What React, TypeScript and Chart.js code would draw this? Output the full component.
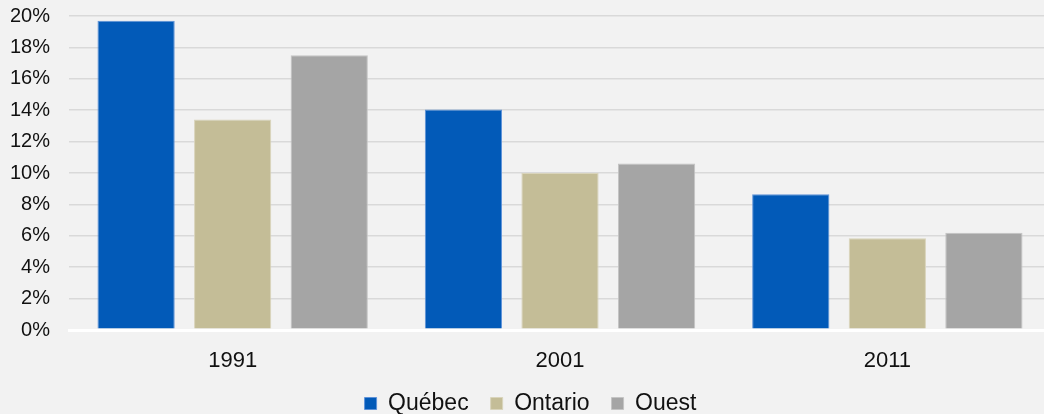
import React, { useEffect, useRef } from "react";
import { Chart, registerables } from "chart.js";

Chart.register(...registerables);

const categories = ["1991", "2001", "2011"];
const seriesNames = ["Québec", "Ontario", "Ouest"];
const quebec = [19.7, 14.05, 8.65];
const ontario = [13.4, 10.0, 5.85];
const ouest = [17.5, 10.6, 6.2];
const yTicks = [0, 2, 4, 6, 8, 10, 12, 14, 16, 18, 20];

const FONT = "'Liberation Sans', Arial, sans-serif";

export default function App() {
  const ref = useRef<HTMLCanvasElement | null>(null);

  useEffect(() => {
    document.body.style.margin = "0";
    document.body.style.background = "#f2f2f2";
    const canvas = ref.current;
    if (!canvas) return;
    const chart = new Chart(canvas, {
      type: "bar",
      data: {
        labels: categories,
        datasets: [
          { label: seriesNames[0], data: quebec, backgroundColor: "#025ab8", borderColor: "#5e92d8", borderWidth: 1 },
          { label: seriesNames[1], data: ontario, backgroundColor: "#c4bd97", borderColor: "#d9d4bb", borderWidth: 1 },
          { label: seriesNames[2], data: ouest, backgroundColor: "#a5a5a5", borderColor: "#c4c4c4", borderWidth: 1 },
        ],
      },
      options: {
        responsive: false,
        animation: false,
        devicePixelRatio: 1,
        layout: { padding: { top: 16, left: 10, right: 0, bottom: 0 } },
        datasets: { bar: { categoryPercentage: 0.885, barPercentage: 0.8 } },
        scales: {
          x: {
            grid: { display: false, drawTicks: false },
            border: { display: true, color: "#ffffff", width: 3 },
            ticks: { color: "#111111", font: { family: FONT, size: 22 }, padding: 18 },
            afterFit: (axis: any) => { axis.height = 40; },
          },
          y: {
            min: 0,
            max: 20,
            afterBuildTicks: (axis: any) => { axis.ticks = yTicks.map((v) => ({ value: v })); },
            afterFit: (axis: any) => {
              axis.width = 59;
              axis.paddingTop = 0;
              axis.paddingBottom = 0;
            },
            grid: {
              drawTicks: false,
              color: (ctx: any) => (ctx.tick && ctx.tick.value === 0 ? "#ffffff" : "#d9d9d9"),
              lineWidth: (ctx: any) => (ctx.tick && ctx.tick.value === 0 ? 3 : 1.6),
            },
            border: { display: false },
            ticks: { autoSkip: false, color: "#111111", font: { family: FONT, size: 20 }, padding: 19, callback: (v: any) => `${v}%` },
          },
        },
        plugins: {
          legend: {
            position: "bottom",
            maxHeight: 44,
            labels: { boxWidth: 12, boxHeight: 12, padding: 22, color: "#111111", font: { family: FONT, size: 23 } },
          },
          tooltip: { enabled: false },
        },
      },
    });
    return () => chart.destroy();
  }, []);

  return (
    <div style={{ width: 1044, height: 414, overflow: "hidden", background: "#f2f2f2" }}>
      <canvas ref={ref} width={1051} height={414} style={{ display: "block" }} />
    </div>
  );
}
